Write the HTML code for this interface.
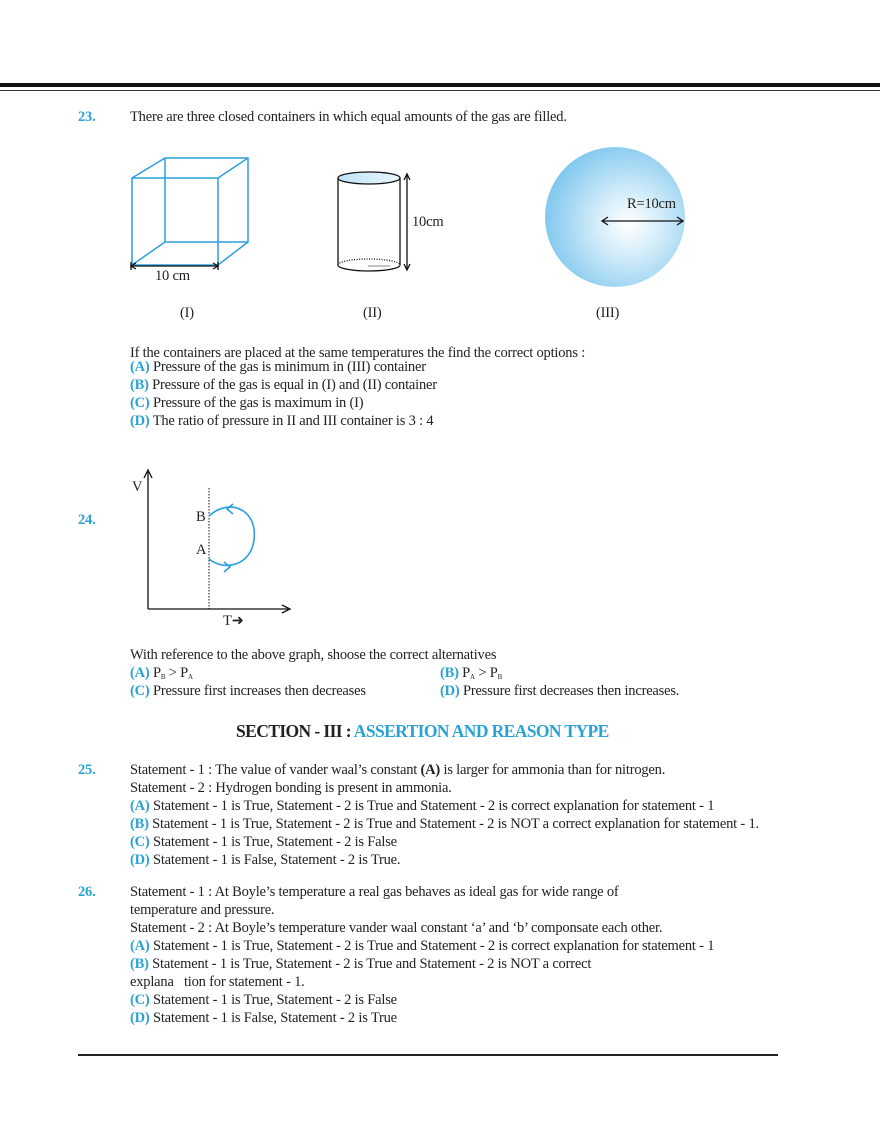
<!DOCTYPE html>
<html><head><meta charset="utf-8"><style>
body{margin:0;background:#fff;}
#p{position:relative;width:880px;height:1139px;overflow:hidden;font-family:"Liberation Serif",serif;font-size:14.5px;color:#222;}
.l{position:absolute;white-space:nowrap;line-height:18px;letter-spacing:-0.2px;}
.b{color:#29a3d6;font-weight:bold;}
.c{color:#29a3d6;}
sub{font-size:7px;vertical-align:-2px;}
</style></head><body><div id="p">
<div style="position:absolute;left:0;top:83px;width:880px;height:4px;background:#111"></div>
<div style="position:absolute;left:0;top:90px;width:880px;height:1px;background:#333"></div>
<div style="position:absolute;left:78px;top:1054px;width:700px;height:1.5px;background:#222"></div>

<div class="l b" style="left:78px;top:108px">23.</div>
<div class="l" style="left:130px;top:108px">There are three closed containers in which equal amounts of the gas are filled.</div>

<svg style="position:absolute;left:0;top:0" width="880" height="1139">
<defs><radialGradient id="g" cx="0.6" cy="0.55" r="0.62"><stop offset="0" stop-color="#fff"/><stop offset="0.35" stop-color="#d6eefa"/><stop offset="1" stop-color="#7ec6ee"/></radialGradient>
<linearGradient id="tp"><stop offset="0" stop-color="#bfe3f6"/><stop offset="1" stop-color="#e8f6fd"/></linearGradient></defs>
<g stroke="#2d9ee0" stroke-width="1.5" fill="none">
<rect x="132" y="178" width="86" height="87"/><rect x="165" y="158" width="83" height="84"/>
<line x1="132" y1="178" x2="165" y2="158"/><line x1="218" y1="178" x2="248" y2="158"/><line x1="132" y1="265" x2="165" y2="242"/><line x1="218" y1="265" x2="248" y2="242"/>
</g>
<g stroke="#111" stroke-width="1.3" fill="none">
<line x1="131" y1="266" x2="218" y2="266"/><line x1="131" y1="262" x2="131" y2="270"/><line x1="218" y1="262" x2="218" y2="270"/>
<path d="M136,263 L131,266 L136,269 M213,263 L218,266 L213,269"/>
<ellipse cx="369" cy="178" rx="31" ry="6" fill="url(#tp)"/>
<line x1="338" y1="178" x2="338" y2="265"/><line x1="400" y1="178" x2="400" y2="265"/>
<path d="M338,265 A31,6 0 0 0 400,265"/>
<path d="M338,265 A31,6 0 0 1 400,265" stroke-dasharray="1,1.5"/>
<line x1="407" y1="174" x2="407" y2="270"/><path d="M404,180 L407,174 L410,180 M404,264 L407,270 L410,264"/>
</g>
<line x1="368" y1="266" x2="390" y2="266" stroke="#888" stroke-width="1"/>
<circle cx="615" cy="217" r="70" fill="url(#g)"/>
<g stroke="#111" stroke-width="1.3" fill="none">
<line x1="602" y1="221" x2="683" y2="221"/><path d="M608,217 L602,221 L608,225 M677,217 L683,221 L677,225"/>
<line x1="148" y1="472" x2="148" y2="609"/><path d="M144,478 L148,470 L152,478"/>
<line x1="148" y1="609" x2="288" y2="609"/><path d="M282,605 L290,609 L282,613"/>
</g>
<line x1="209" y1="488" x2="209" y2="609" stroke="#111" stroke-width="1" stroke-dasharray="1.5,1.5"/>
<g stroke="#2d9ee0" stroke-width="1.6" fill="none">
<path d="M209,516 C228,498 258,508 254,540 C251,565 225,572 209,559"/>
<path d="M233,504 L227,509 L233,514 M224,562 L230,567 L224,572"/>
</g>
</svg>
<div class="l" style="left:155px;top:267px">10 cm</div>
<div class="l" style="left:412px;top:213px">10cm</div>
<div class="l" style="left:627px;top:195px">R=10cm</div>
<div class="l" style="left:180px;top:304px">(I)</div>
<div class="l" style="left:363px;top:304px">(II)</div>
<div class="l" style="left:596px;top:304px">(III)</div>

<div class="l" style="left:130px;top:344px">If the containers are placed at the same temperatures the find the correct options :</div>
<div class="l" style="left:130px;top:358px"><span class="b">(A)</span> Pressure of the gas is minimum in (III) container</div>
<div class="l" style="left:130px;top:376px"><span class="b">(B)</span> Pressure of the gas is equal in (I) and (II) container</div>
<div class="l" style="left:130px;top:394px"><span class="b">(C)</span> Pressure of the gas is maximum in (I)</div>
<div class="l" style="left:130px;top:412px"><span class="b">(D)</span> The ratio of pressure in II and III container is 3 : 4</div>

<div class="l" style="left:132px;top:478px">V</div>
<div class="l" style="left:196px;top:508px">B</div>
<div class="l" style="left:196px;top:541px">A</div>
<div class="l" style="left:223px;top:612px">T&#10140;</div>
<div class="l b" style="left:78px;top:511px">24.</div>

<div class="l" style="left:130px;top:646px">With reference to the above graph, shoose the correct alternatives</div>
<div class="l" style="left:130px;top:664px"><span class="b">(A)</span> P<sub>B</sub> &gt; P<sub>A</sub></div>
<div class="l" style="left:440px;top:664px"><span class="b">(B)</span> P<sub>A</sub> &gt; P<sub>B</sub></div>
<div class="l" style="left:130px;top:682px"><span class="b">(C)</span> Pressure first increases then decreases</div>
<div class="l" style="left:440px;top:682px"><span class="b">(D)</span> Pressure first decreases then increases.</div>

<div class="l" style="left:236px;top:722px;font-size:17.5px;font-weight:bold;letter-spacing:-0.6px">SECTION - III : <span class="c">ASSERTION AND REASON TYPE</span></div>

<div class="l b" style="left:78px;top:761px">25.</div>
<div class="l" style="left:130px;top:761px">Statement - 1 : The value of vander waal’s constant <b>(A)</b> is larger for ammonia than for nitrogen.</div>
<div class="l" style="left:130px;top:779px">Statement - 2 : Hydrogen bonding is present in ammonia.</div>
<div class="l" style="left:130px;top:797px"><span class="b">(A)</span> Statement - 1 is True, Statement - 2 is True and Statement - 2 is correct explanation for statement - 1</div>
<div class="l" style="left:130px;top:815px"><span class="b">(B)</span> Statement - 1 is True, Statement - 2 is True and Statement - 2 is NOT a correct explanation for statement - 1.</div>
<div class="l" style="left:130px;top:833px"><span class="b">(C)</span> Statement - 1 is True, Statement - 2 is False</div>
<div class="l" style="left:130px;top:851px"><span class="b">(D)</span> Statement - 1 is False, Statement - 2 is True.</div>

<div class="l b" style="left:78px;top:883px">26.</div>
<div class="l" style="left:130px;top:883px">Statement - 1 : At Boyle’s temperature a real gas behaves as ideal gas for wide range of</div>
<div class="l" style="left:130px;top:901px">temperature and pressure.</div>
<div class="l" style="left:130px;top:919px">Statement - 2 : At Boyle’s temperature vander waal constant ‘a’ and ‘b’ componsate each other.</div>
<div class="l" style="left:130px;top:937px"><span class="b">(A)</span> Statement - 1 is True, Statement - 2 is True and Statement - 2 is correct explanation for statement - 1</div>
<div class="l" style="left:130px;top:955px"><span class="b">(B)</span> Statement - 1 is True, Statement - 2 is True and Statement - 2 is NOT a correct</div>
<div class="l" style="left:130px;top:973px">explana&nbsp;&nbsp; tion for statement - 1.</div>
<div class="l" style="left:130px;top:991px"><span class="b">(C)</span> Statement - 1 is True, Statement - 2 is False</div>
<div class="l" style="left:130px;top:1009px"><span class="b">(D)</span> Statement - 1 is False, Statement - 2 is True</div>
</div></body></html>
